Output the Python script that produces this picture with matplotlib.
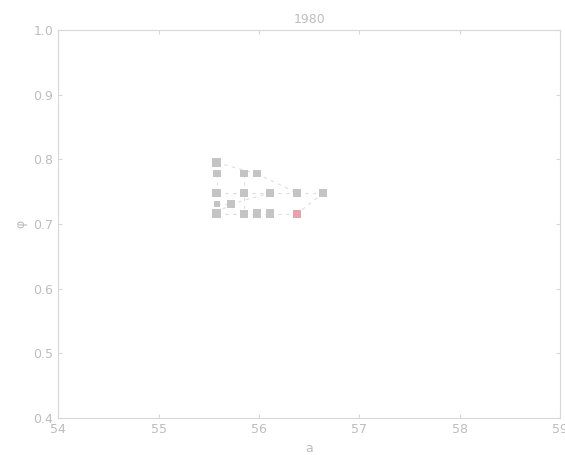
import matplotlib
matplotlib.use("Agg")
import matplotlib.pyplot as plt

# nodes (x, y)
node_x = [55.58, 55.58, 55.85, 55.98, 55.58, 55.85, 56.11, 56.38, 56.64,
          55.58, 55.72, 55.58, 55.85, 55.98, 56.11, 56.38]
node_y = [0.795, 0.778, 0.778, 0.778, 0.748, 0.748, 0.748, 0.748, 0.748,
          0.731, 0.731, 0.716, 0.716, 0.716, 0.716, 0.716]
node_size = [38, 30, 30, 30, 38, 38, 38, 30, 30,
             18, 30, 38, 30, 38, 38, 30]
highlight = 15  # red node

# edges between nodes (index pairs)
edges = [(0, 3), (3, 7), (1, 4), (2, 12), (4, 5), (5, 6), (6, 7), (7, 8),
         (9, 10), (11, 10), (10, 6), (11, 12), (12, 13), (13, 14), (14, 15),
         (8, 15)]

grey = "#c4c4c4"
txt = "#bdbdbd"

fig = plt.figure(figsize=(5.65, 4.55), dpi=100)
ax = fig.add_axes([0.103, 0.081, 0.888, 0.853])

for a, b in edges:
    ax.plot([node_x[a], node_x[b]], [node_y[a], node_y[b]],
            linestyle=(0, (3, 4)), color="#dedede", lw=0.8, zorder=1)

cols = [grey] * len(node_x)
cols[highlight] = "#e6a3ab"
ax.scatter(node_x, node_y, s=node_size, c=cols, marker="s", zorder=2,
           edgecolors="none")

ax.set_xlim(54, 59)
ax.set_ylim(0.4, 1.0)
ax.set_xticks([54, 55, 56, 57, 58, 59])
ax.set_yticks([0.4, 0.5, 0.6, 0.7, 0.8, 0.9, 1.0])
ax.set_yticklabels(["0.4", "0.5", "0.6", "0.7", "0.8", "0.9", "1.0"])
ax.tick_params(direction="in", top=True, right=True, colors="#d8d8d8",
               labelcolor=txt, labelsize=9, length=3)
for s in ax.spines.values():
    s.set_color("#d8d8d8")

ax.set_title("1980", color=txt, fontsize=9, pad=5)
ax.set_xlabel("a", color=txt, fontsize=9)
ax.set_ylabel("φ", color=txt, fontsize=9)

fig.savefig("out.png", dpi=100)
